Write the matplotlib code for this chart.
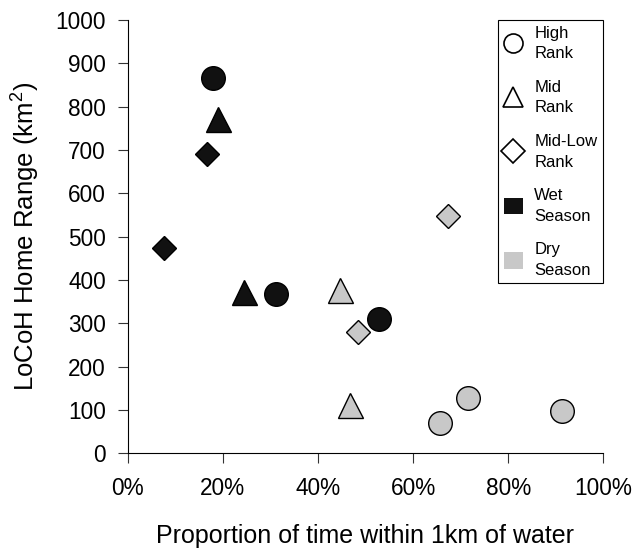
import matplotlib.pyplot as plt
from matplotlib.lines import Line2D
from matplotlib.patches import Patch

plt.rcParams['font.family'] = ['Liberation Sans', 'DejaVu Sans']
plt.rcParams['mathtext.default'] = 'regular'

# proportion of time within 1km of water (%) and LoCoH home range (km2)
wet_high_x = [18.0, 31.1, 52.9]
wet_high_y = [866, 368, 310]
wet_mid_x = [19.1, 24.5]
wet_mid_y = [771, 372]
wet_midlow_x = [16.7, 7.6]
wet_midlow_y = [692, 473]

dry_high_x = [65.7, 71.5, 91.4]
dry_high_y = [71, 127, 97]
dry_mid_x = [44.7, 46.7]
dry_mid_y = [376, 111]
dry_midlow_x = [48.5, 67.4]
dry_midlow_y = [281, 548]

x_ticks = [0, 20, 40, 60, 80, 100]
x_labels = ['0%', '20%', '40%', '60%', '80%', '100%']
y_ticks = list(range(0, 1001, 100))

wet = '#111111'
dry = '#c8c8c8'

fig = plt.figure(figsize=(6.35, 5.49), dpi=100)
ax = fig.add_axes([0.201, 0.1743, 0.749, 0.789])

def pts(x, y, marker, size, color):
    ax.plot(x, y, linestyle='none', marker=marker, markersize=size,
            markerfacecolor=color, markeredgecolor='black',
            markeredgewidth=1.0, clip_on=False, zorder=3)

pts(wet_high_x, wet_high_y, 'o', 17, wet)
pts(wet_mid_x, wet_mid_y, '^', 18, wet)
pts(wet_midlow_x, wet_midlow_y, 'D', 12.5, wet)
pts(dry_high_x, dry_high_y, 'o', 17, dry)
pts(dry_mid_x, dry_mid_y, '^', 18, dry)
pts(dry_midlow_x, dry_midlow_y, 'D', 12.5, dry)

ax.set_xlim(0, 100)
ax.set_ylim(0, 1000)
ax.set_xticks(x_ticks)
ax.set_xticklabels(x_labels)
ax.set_yticks(y_ticks)
ax.tick_params(direction='out', length=7, width=0.8, labelsize=16.3, color='#333333')
ax.tick_params(axis='y', pad=8.5)
ax.tick_params(axis='x', pad=10)
ax.spines['top'].set_visible(False)
ax.spines['right'].set_visible(False)

ax.set_xlabel('Proportion of time within 1km of water', fontsize=18, labelpad=17)
ax.set_ylabel('LoCoH Home Range (km$^2$)', fontsize=18.5, labelpad=10)

handles = [
    Line2D([], [], linestyle='none', marker='o', markersize=13.7,
           markerfacecolor='white', markeredgecolor='black', markeredgewidth=1.2),
    Line2D([], [], linestyle='none', marker='^', markersize=14.4,
           markerfacecolor='white', markeredgecolor='black', markeredgewidth=1.2),
    Line2D([], [], linestyle='none', marker='D', markersize=12.5,
           markerfacecolor='white', markeredgecolor='black', markeredgewidth=1.2),
    Patch(facecolor=wet, edgecolor='none'),
    Patch(facecolor=dry, edgecolor='none'),
]
labels = ['High\nRank', 'Mid\nRank', 'Mid-Low\nRank', 'Wet\nSeason', 'Dry\nSeason']
leg = ax.legend(handles, labels, loc='upper right', bbox_to_anchor=(1.0, 1.0),
                borderaxespad=0, fontsize=12, fancybox=False, edgecolor='black',
                framealpha=1, labelspacing=1.12, handlelength=1.14, handleheight=1.14,
                handletextpad=0.7, borderpad=0.35)
leg.get_frame().set_linewidth(0.8)
for t in leg.get_texts():
    t.set_linespacing(1.45)

fig.savefig('out.png', dpi=100)
